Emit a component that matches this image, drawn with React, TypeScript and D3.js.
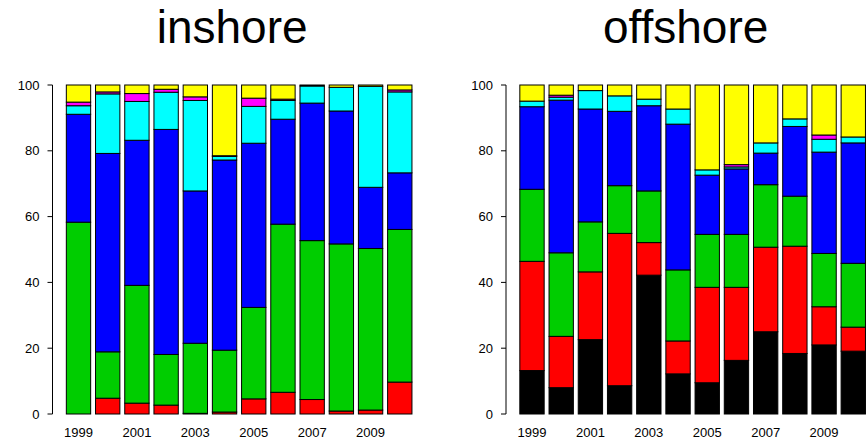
import React from "react";
import * as d3 from "d3";

const years = [1999, 2000, 2001, 2002, 2003, 2004, 2005, 2006, 2007, 2008, 2009, 2010];
const seriesKeys = ["s1", "s2", "s3", "s4", "s5", "s6", "s7"];
const seriesColors = ["#000000", "#FF0000", "#00CD00", "#0000FF", "#00FFFF", "#FF00FF", "#FFFF00"];
const yTicks = [0, 20, 40, 60, 80, 100];
const panelTitles = ["inshore", "offshore"];

// inshore percentages (bottom to top)
const inshoreS1 = [0, 0, 0, 0, 0, 0, 0, 0, 0, 0, 0, 0];
const inshoreS2 = [0, 4.8, 3.3, 2.7, 0.2, 0.6, 4.6, 6.6, 4.4, 0.9, 1.2, 9.7];
const inshoreS3 = [58.3, 14.1, 35.8, 15.4, 21.3, 18.8, 27.8, 51.1, 48.3, 50.8, 49.1, 46.4];
const inshoreS4 = [32.8, 60.3, 44.1, 68.4, 46.3, 57.8, 49.9, 31.9, 41.8, 40.4, 18.6, 17.2];
const inshoreS5 = [2.6, 18.1, 11.8, 11.3, 27.5, 1.1, 11.2, 5.7, 5.2, 7.2, 30.7, 24.6];
const inshoreS6 = [1.1, 0.6, 2.4, 0.9, 1.1, 0.2, 2.5, 0.4, 0, 0, 0, 0.6];
const inshoreS7 = [5.2, 2.1, 2.6, 1.3, 3.6, 21.5, 4.0, 4.3, 0.3, 0.7, 0.4, 1.5];

// offshore percentages (bottom to top)
const offshoreS1 = [13.2, 8.0, 22.6, 8.6, 42.2, 12.2, 9.5, 16.3, 25.0, 18.4, 21.0, 19.1];
const offshoreS2 = [33.2, 15.6, 20.6, 46.3, 9.9, 10.0, 29.0, 22.2, 25.7, 32.6, 11.6, 7.3];
const offshoreS3 = [21.9, 25.4, 15.2, 14.5, 15.7, 21.6, 16.1, 16.1, 19.0, 15.2, 16.2, 19.4];
const offshoreS4 = [25.1, 46.4, 34.3, 22.6, 25.9, 44.3, 18.0, 19.9, 9.6, 21.2, 30.8, 36.6];
const offshoreS5 = [1.7, 0.9, 5.6, 4.7, 2.0, 4.6, 1.6, 0.6, 3.1, 2.3, 3.9, 1.8];
const offshoreS6 = [0, 0.6, 0, 0, 0, 0, 0, 0.7, 0, 0, 1.3, 0];
const offshoreS7 = [4.9, 3.1, 1.7, 3.3, 4.3, 7.3, 25.8, 24.2, 17.6, 10.3, 15.2, 15.8];

function buildRows(series: number[][]) {
  return years.map((y, i) => {
    const row: any = { year: y, idx: i };
    seriesKeys.forEach((k, j) => (row[k] = series[j][i]));
    return row;
  });
}

const inshoreRows = buildRows([inshoreS1, inshoreS2, inshoreS3, inshoreS4, inshoreS5, inshoreS6, inshoreS7]);
const offshoreRows = buildRows([offshoreS1, offshoreS2, offshoreS3, offshoreS4, offshoreS5, offshoreS6, offshoreS7]);

const FONT = "'Liberation Sans', Arial, Helvetica, sans-serif";

function Panel({ rows, title, left }: { rows: any[]; title: string; left: number }) {
  const unit = 24.34;
  const n = rows.length;
  const xMin = 0.2 - 0.04 * (n * 1.2 - 0.2);
  const xMax = n * 1.2 + 0.04 * (n * 1.2 - 0.2);
  const x = d3.scaleLinear().domain([xMin, xMax]).range([left, left + (xMax - xMin) * unit]);
  const y = d3.scaleLinear().domain([0, 100]).range([414, 85]);
  const stacked = d3.stack().keys(seriesKeys)(rows as any);
  const axisX = x(xMin);
  const center = (x(xMin) + x(xMax)) / 2;
  const barLeft = (i: number) => 0.2 + i * 1.2;
  return (
    <g>
      <text x={center - 7} y={43} fontSize={46} textAnchor="middle" fontFamily={FONT} fill="#000">
        {title}
      </text>
      {stacked.map((layer, j) => (
        <g key={j}>
          {layer.map((d: any, i: number) => {
            const h = y(d[0]) - y(d[1]);
            return (
              <rect
                key={i}
                x={x(barLeft(i))}
                y={y(d[1])}
                width={x(barLeft(i) + 1) - x(barLeft(i))}
                height={Math.max(h, 0)}
                fill={seriesColors[j]}
                stroke="#000"
                strokeWidth={1}
              />
            );
          })}
        </g>
      ))}
      <line x1={axisX} x2={axisX} y1={y(0)} y2={y(100)} stroke="#000" strokeWidth={1} />
      {yTicks.map((t) => (
        <g key={t}>
          <line x1={axisX - 5} x2={axisX} y1={y(t)} y2={y(t)} stroke="#000" strokeWidth={1} />
          <text
            x={axisX - 13}
            y={y(t) + 4.5}
            fontSize={13}
            textAnchor="end"
            fontFamily={FONT}
            fill="#000"
          >
            {t}
          </text>
        </g>
      ))}
      {rows.map((r, i) =>
        i % 2 === 0 ? (
          <text
            key={i}
            x={x(barLeft(i) + 0.5)}
            y={437}
            fontSize={13}
            textAnchor="middle"
            fontFamily={FONT}
            fill="#000"
          >
            {r.year}
          </text>
        ) : null
      )}
    </g>
  );
}

export default function App() {
  return (
    <svg
      width={868}
      height={441}
      style={{ position: "absolute", left: 0, top: 0, background: "#fff" }}
    >
      <rect x={0} y={0} width={868} height={441} fill="#fff" />
      <Panel rows={inshoreRows} title={panelTitles[0]} left={52.5} />
      <Panel rows={offshoreRows} title={panelTitles[1]} left={506} />
    </svg>
  );
}
